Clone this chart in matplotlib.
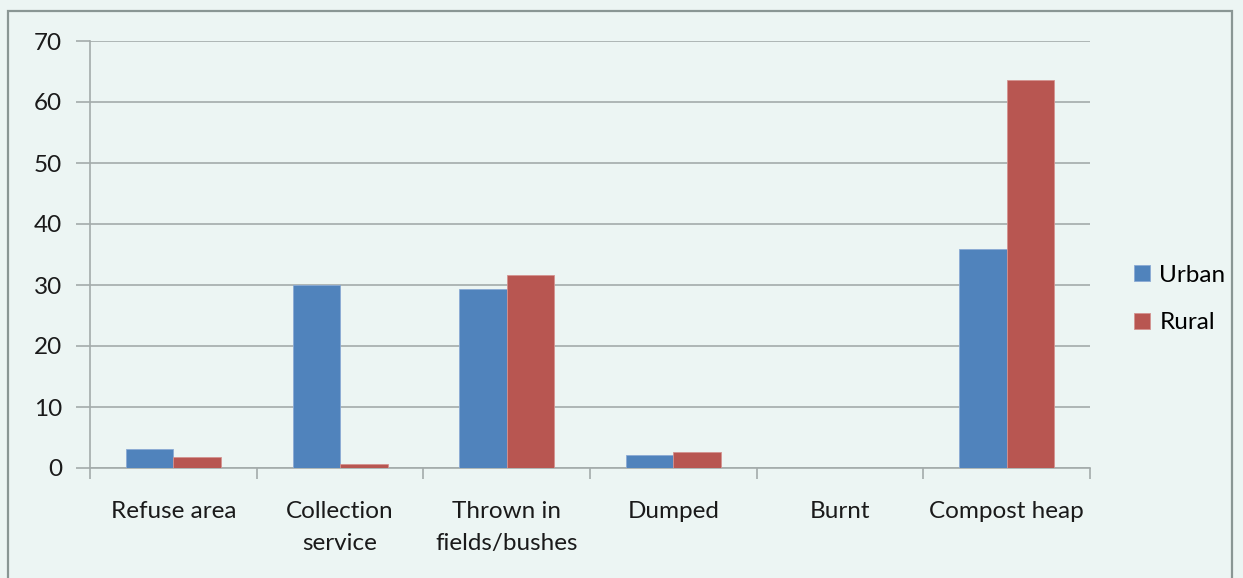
import matplotlib.pyplot as plt
import numpy as np
from matplotlib.patches import Rectangle

categories = ["Refuse area", "Collection\nservice", "Thrown in\nfields/bushes",
              "Dumped", "Burnt", "Compost heap"]
urban = [3.1, 30.0, 29.3, 2.2, 0.0, 35.9]
rural = [1.8, 0.7, 31.6, 2.6, 0.0, 63.6]
yticks = [0, 10, 20, 30, 40, 50, 60, 70]

bg = "#ECF5F3"
grid_c = "#A3ABAA"
plt.rcParams['font.family'] = ['Lato', 'DejaVu Sans']

W, H = 1243, 578
fig = plt.figure(figsize=(W / 100, H / 100), dpi=100, facecolor=bg)

# outer frame (bottom edge lies below the picture)
fig.add_artist(Rectangle((8 / W, -0.1), (1232 - 8) / W, 1.1 - 11 / H,
                         transform=fig.transFigure, fill=False,
                         edgecolor="#8A9694", linewidth=1.6))

ax = fig.add_axes([90 / W, 1 - 468 / H, 1000 / W, 427 / H])
ax.set_facecolor(bg)

x = np.arange(len(categories))
bw = 0.285
ax.bar(x - bw / 2, urban, bw, color="#5083BC", edgecolor="#8AAAD4",
       linewidth=0.6, label="Urban", zorder=3)
ax.bar(x + bw / 2, rural, bw, color="#B85651", edgecolor="#D49390",
       linewidth=0.6, label="Rural", zorder=3)

ax.set_xlim(-0.5, len(categories) - 0.5)
ax.set_ylim(0, 70)
ax.set_yticks(yticks)
ax.yaxis.grid(True, color=grid_c, linewidth=1.2, zorder=0)

ax.set_xticks(np.arange(len(categories) + 1) - 0.5)
ax.set_xticklabels([])
ax.set_xticks(x, minor=True)
ax.set_xticklabels(categories, minor=True, fontsize=17.5, color="#1A1A1A",
                   linespacing=1.6)
ax.tick_params(axis="x", which="minor", length=0, pad=24)
ax.tick_params(axis="x", which="major", length=8, width=1.2, color=grid_c)
ax.tick_params(axis="y", length=10, width=1.2, color=grid_c, pad=10,
               labelsize=17.5, labelcolor="#1A1A1A")

for s in ["top", "right"]:
    ax.spines[s].set_visible(False)
for s in ["left", "bottom"]:
    ax.spines[s].set_color(grid_c)
    ax.spines[s].set_linewidth(1.2)

fig.legend(loc="center left", bbox_to_anchor=(1112 / W, 1 - 299 / H),
           frameon=False, fontsize=17.5, handlelength=0.65, handleheight=0.65,
           handletextpad=0.4, labelspacing=1.1)

fig.savefig("out.png", dpi=100, facecolor=bg)
